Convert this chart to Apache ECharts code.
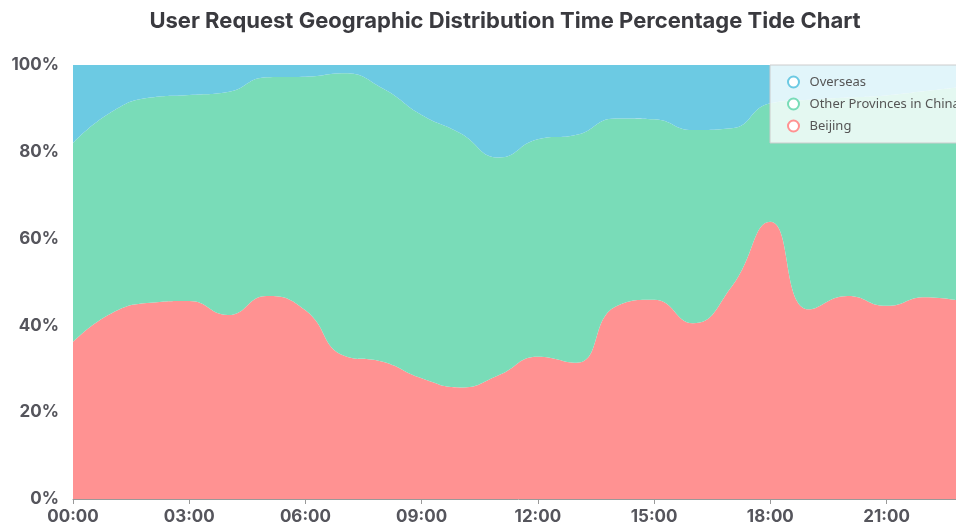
<!DOCTYPE html>
<html>
<head>
<meta charset="utf-8">
<script src="https://cdn.jsdelivr.net/npm/echarts@6/dist/echarts.min.js"></script>
<style>
  html, body { margin: 0; padding: 0; overflow: hidden; background: #fff; }
  #main { width: 1010px; height: 529px; }
</style>
</head>
<body>
<div id="main"></div>
<script type="text/javascript">
// hours of the day
var hours = ['00:00','01:00','02:00','03:00','04:00','05:00','06:00','07:00','08:00','09:00','10:00','11:00',
             '12:00','13:00','14:00','15:00','16:00','17:00','18:00','19:00','20:00','21:00','22:00','23:00'];
// percentage shares per hour
var beijing  = [36.2, 42.8, 45.2, 45.6, 42.4, 46.8, 43.5, 33.0, 31.6, 27.8, 25.7, 28.6,
                32.8, 31.4, 44.3, 45.9, 40.5, 48.9, 63.9, 43.7, 46.8, 44.5, 46.5, 45.5];
var others   = [45.8, 46.4, 47.3, 47.5, 51.4, 50.4, 53.8, 65.1, 63.0, 60.7, 58.6, 50.1,
                50.1, 52.5, 43.4, 41.6, 44.5, 36.5, 27.3, 48.3, 45.7, 48.5, 47.5, 49.5];
var overseas = [18.0, 10.8, 7.5, 6.9, 6.2, 2.8, 2.7, 1.9, 5.4, 11.5, 15.7, 21.3,
                17.1, 16.1, 12.3, 12.5, 15.0, 14.6, 8.8, 8.0, 7.5, 7.0, 6.0, 5.0];
var yTicks = [0, 20, 40, 60, 80, 100];

var chart = echarts.init(document.getElementById('main'));

function areaSeries(name, data, color){
    return {
        name: name,
        type: 'line',
        stack: 'total',
        smooth: true,
        showSymbol: false,
        symbol: 'circle',
        data: data,
        itemStyle: { color: color },
        lineStyle: { width: 0, color: color },
        areaStyle: { color: color, opacity: 1 }
    };
}

var option = {
    animation: false,
    title: {
        text: 'User Request Geographic Distribution Time Percentage Tide Chart',
        left: 'center',
        top: 5,
        textStyle: {
            fontFamily: 'Inter',
            fontSize: 22,
            fontWeight: 'bold',
            color: '#3a3a3f'
        }
    },
    legend: {
        orient: 'vertical',
        left: 770,
        top: 65,
        padding: [10, 10, 10, 17],
        itemGap: 8,
        itemWidth: 22,
        itemHeight: 11,
        icon: 'emptyCircle',
        backgroundColor: 'rgba(255,255,255,0.8)',
        borderColor: '#cccccc',
        borderWidth: 1,
        data: ['Overseas', 'Other Provinces in China', 'Beijing'],
        textStyle: {
            fontFamily: 'Noto Sans',
            fontSize: 13,
            lineHeight: 14,
            color: '#555'
        }
    },
    grid: {
        left: 73,
        right: 46,
        top: 65,
        bottom: 30,
        containLabel: false
    },
    xAxis: {
        type: 'category',
        boundaryGap: false,
        data: hours,
        axisLine: { lineStyle: { color: '#999' } },
        axisTick: { interval: 2, length: 5, lineStyle: { color: '#999' } },
        axisLabel: {
            interval: 2,
            margin: 9,
            fontFamily: 'Inter',
            fontSize: 17,
            fontWeight: 'bold',
            color: '#55555c'
        },
        splitLine: { show: false }
    },
    yAxis: {
        type: 'value',
        min: yTicks[0],
        max: yTicks[yTicks.length - 1],
        interval: 20,
        axisLine: { show: false },
        axisTick: { show: false },
        splitLine: { show: false },
        axisLabel: {
            margin: 14,
            formatter: '{value}%',
            fontFamily: 'Inter',
            fontSize: 17,
            fontWeight: 'bold',
            color: '#55555c'
        }
    },
    series: [
        areaSeries('Beijing', beijing, '#ff9292'),
        areaSeries('Other Provinces in China', others, '#79dcb8'),
        areaSeries('Overseas', overseas, '#6ccae3')
    ]
};

chart.setOption(option);
</script>
</body>
</html>
